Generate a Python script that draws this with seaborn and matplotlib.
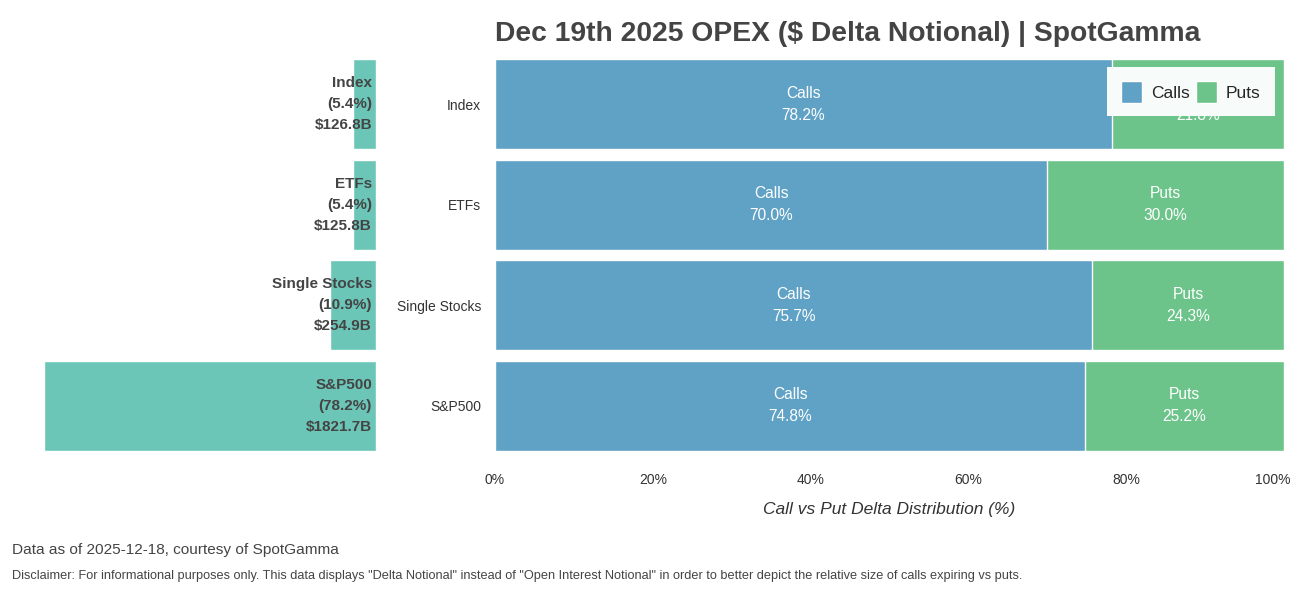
import pandas as pd
import matplotlib.pyplot as plt
import matplotlib.transforms as mtransforms
import seaborn as sns

# chart values
categories = ["Index", "ETFs", "Single Stocks", "S&P500"]
calls_pct = [78.2, 70.0, 75.7, 74.8]
puts_pct = [21.8, 30.0, 24.3, 25.2]
notional_b = [126.8, 125.8, 254.9, 1821.7]
share_pct = [5.4, 5.4, 10.9, 78.2]
x_ticks = [0, 20, 40, 60, 80, 100]
x_ticklabels = ["0%", "20%", "40%", "60%", "80%", "100%"]

df = pd.DataFrame({
    "category": categories,
    "calls": calls_pct,
    "puts": puts_pct,
    "notional": notional_b,
    "share": share_pct,
})
df["total"] = df["calls"] + df["puts"]

sns.set_style("white")
plt.rcParams["font.family"] = ["Liberation Sans", "DejaVu Sans"]

CALL_C = "#5fa2c6"
PUT_C = "#6cc48a"
TEAL = "#6cc6b8"
DARK = "#444444"

fig = plt.figure(figsize=(13, 5.93), dpi=100)
ax_l = fig.add_axes([0.0338, 0.231, 0.2554, 0.678])
ax_r = fig.add_axes([0.3808, 0.231, 0.6069, 0.678])

# ===========================
# Left: size of each bucket
# ===========================
sns.barplot(data=df, x="notional", y="category", orient="h", color=TEAL,
            saturation=1, width=0.9, ax=ax_l)
ax_l.set_xlim(max(notional_b), 0)
ax_l.axis("off")
for i, row in df.iterrows():
    ax_l.text(0.012 * max(notional_b), i,
              f"{row['category']}\n({row['share']:.1f}%)\n${row['notional']:.1f}B",
              ha="right", va="center", fontsize=11, fontweight="bold",
              color=DARK, linespacing=1.65)

# ===========================
# Right: call vs put split
# ===========================
sns.barplot(data=df, x="total", y="category", orient="h", color=PUT_C,
            saturation=1, width=0.9, ax=ax_r, label="Puts")
sns.barplot(data=df, x="calls", y="category", orient="h", color=CALL_C,
            saturation=1, width=0.9, ax=ax_r, label="Calls")

for i, row in df.iterrows():
    ax_r.text(row["calls"] / 2, i, f"Calls\n{row['calls']:.1f}%",
              ha="center", va="center", color="white", fontsize=11.2,
              linespacing=1.6)
    ax_r.text(row["calls"] + row["puts"] / 2, i, f"Puts\n{row['puts']:.1f}%",
              ha="center", va="center", color="white", fontsize=11.2,
              linespacing=1.6)

ax_r.set_xlim(0, 100)
ax_r.set_xticks(x_ticks)
ax_r.set_xticklabels(x_ticklabels)
ax_r.tick_params(axis="both", length=0, labelsize=10, colors="#333333")
ax_r.tick_params(axis="y", pad=10)
ax_r.tick_params(axis="x", pad=12)
ax_r.set_ylabel("")
ax_r.set_xlabel("Call vs Put Delta Distribution (%)", fontsize=12.5,
                style="italic", color="#333333", labelpad=11)
sns.despine(ax=ax_r, left=True, bottom=True)

# keep the 100% label inside the figure
last = ax_r.get_xticklabels()[-1]
last.set_ha("right")
last.set_transform(last.get_transform() +
                   mtransforms.ScaledTranslation(6 / 100, 0, fig.dpi_scale_trans))

handles, labels = ax_r.get_legend_handles_labels()
order = [labels.index("Calls"), labels.index("Puts")]
ax_r.legend([handles[k] for k in order], ["Calls", "Puts"], loc="upper right",
            ncol=2, fontsize=12.5, frameon=True, fancybox=False,
            facecolor="#f7fbfa", edgecolor="none", framealpha=1,
            handlelength=1.2, handleheight=1.5, handletextpad=0.5,
            columnspacing=0.4, borderpad=0.8, bbox_to_anchor=(0.999, 0.988))

ax_r.set_title("Dec 19th 2025 OPEX ($ Delta Notional) | SpotGamma",
               fontsize=20.3, fontweight="bold", color=DARK, loc="left", pad=9)

fig.text(0.009, 0.073, "Data as of 2025-12-18, courtesy of SpotGamma",
         fontsize=11.1, color="#444444", va="center")
fig.text(0.009, 0.029, 'Disclaimer: For informational purposes only. This data displays "Delta Notional" '
         'instead of "Open Interest Notional" in order to better depict the relative size of calls expiring vs puts.',
         fontsize=9.2, color="#444444", va="center")

plt.savefig("out.png", dpi=100)
